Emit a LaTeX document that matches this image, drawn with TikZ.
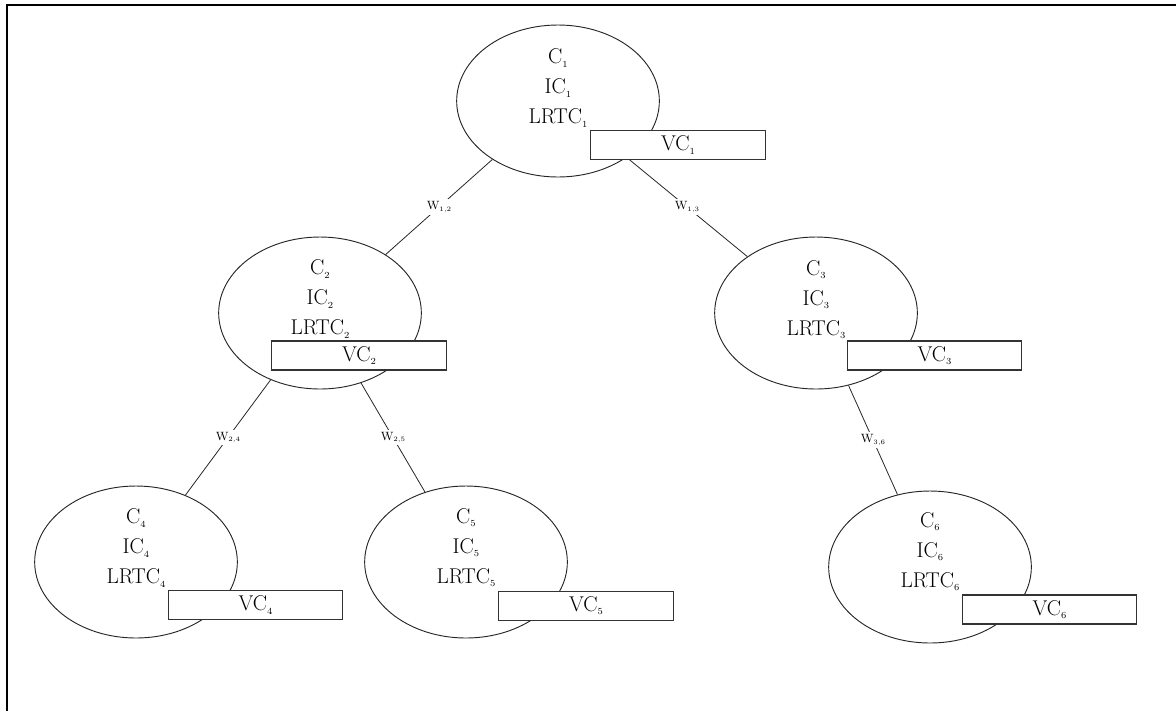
\documentclass[tikz,border=0pt]{standalone}
\usepackage{tikz}
\usetikzlibrary{shapes.geometric,calc}
\newcommand\subx[1]{\raisebox{-0.35ex}{\fontsize{7}{7}\selectfont #1}}
\newcommand\subw[1]{\raisebox{-0.3ex}{\fontsize{5}{5}\selectfont #1}}
\tikzset{
 cell/.style={draw=black!85, line width=0.7pt, ellipse, minimum width=152pt, minimum height=114pt, inner sep=0pt},
 celltext/.style={align=center, font=\fontsize{16}{22.5}\selectfont, inner sep=0pt},
 vcbox/.style={draw=black!80, line width=0.9pt, fill=white, minimum width=131pt, minimum height=21.75pt, inner sep=0pt, font=\fontsize{16}{18}\selectfont},
 link/.style={draw=black!85, line width=0.6pt},
 wlab/.style={fill=white, inner sep=1.5pt, font=\fontsize{9}{10}\selectfont},
 frameline/.style={line width=1.5pt}
}
\begin{document}
\begin{tikzpicture}[x=0.75pt,y=-0.75pt]
\useasboundingbox (0,0) rectangle (1176,711);
\draw[frameline] (1176,5) -- (7,5) -- (7,711);

% ellipses
\node[cell] (n1) at (558,101) {};
\node[cell] (n2) at (320,313) {};
\node[cell] (n3) at (816,313) {};
\node[cell] (n4) at (136,562) {};
\node[cell] (n5) at (466,562) {};
\node[cell] (n6) at (930,567) {};

% connectors
\draw[link] (n1) -- node[wlab] (w12) {W\subw{1,2}} (n2);
\draw[link] (n1) -- node[wlab] (w13) {W\subw{1,3}} (n3);
\draw[link] (n2) -- node[wlab] (w24) {W\subw{2,4}} (n4);
\draw[link] (n2) -- node[wlab] (w25) {W\subw{2,5}} (n5);
\draw[link] (n3) -- node[wlab] (w36) {W\subw{3,6}} (n6);

% texts
\node[celltext] (t1) at ($(n1.center)+(0,-13)$) {C\subx{1}\\IC\subx{1}\\LRTC\subx{1}};
\node[celltext] (t2) at ($(n2.center)+(0,-14)$) {C\subx{2}\\IC\subx{2}\\LRTC\subx{2}};
\node[celltext] (t3) at ($(n3.center)+(0,-13)$) {C\subx{3}\\IC\subx{3}\\LRTC\subx{3}};
\node[celltext] (t4) at ($(n4.center)+(0,-14)$) {C\subx{4}\\IC\subx{4}\\LRTC\subx{4}};
\node[celltext] (t5) at ($(n5.center)+(0,-14)$) {C\subx{5}\\IC\subx{5}\\LRTC\subx{5}};
\node[celltext] (t6) at ($(n6.center)+(0,-15)$) {C\subx{6}\\IC\subx{6}\\LRTC\subx{6}};

% VC boxes
\node[vcbox] (v1) at (678,145) {VC\subx{1}};
\node[vcbox] (v2) at (359,355.5) {VC\subx{2}};
\node[vcbox] (v3) at (934.5,355.5) {VC\subx{3}};
\node[vcbox] (v4) at (255.5,605) {VC\subx{4}};
\node[vcbox] (v5) at (586,606) {VC\subx{5}};
\node[vcbox] (v6) at (1049.5,609.5) {VC\subx{6}};
\end{tikzpicture}
\end{document}
